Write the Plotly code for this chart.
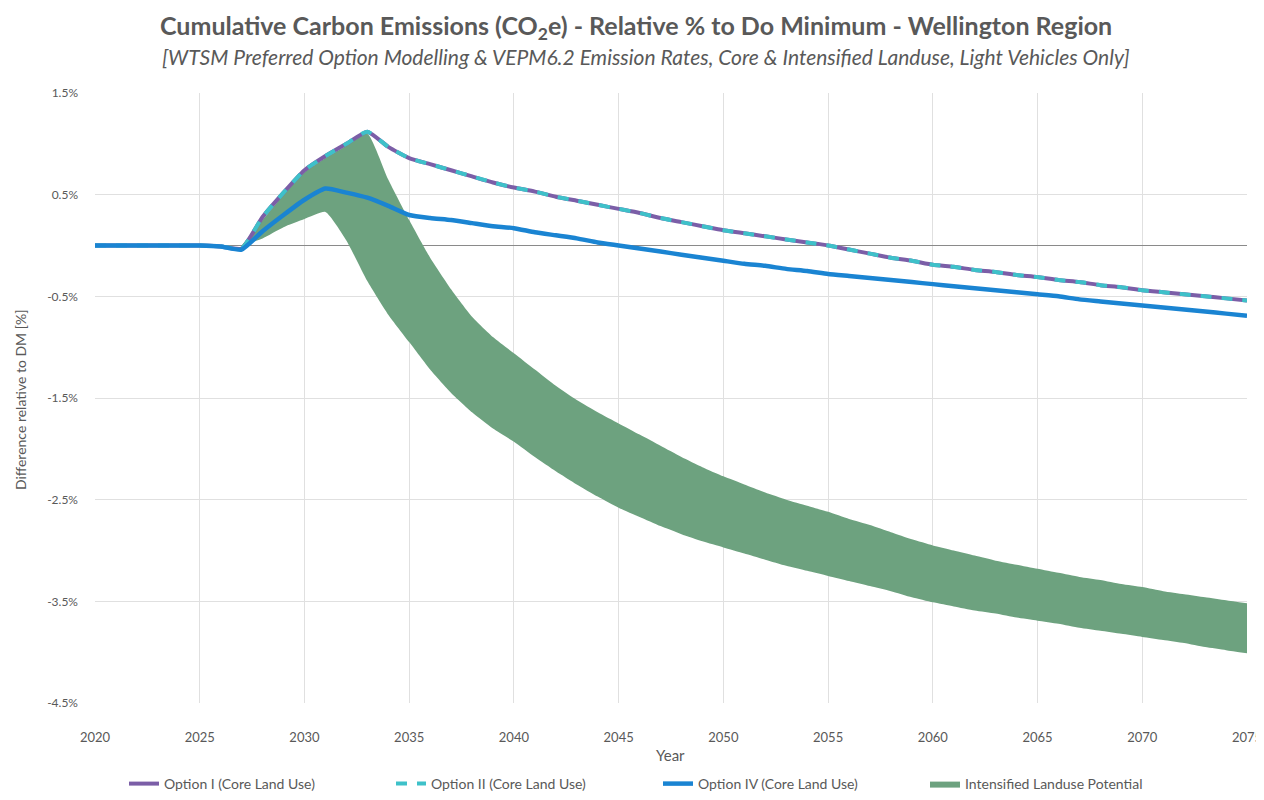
import plotly.graph_objects as go

years = list(range(2020, 2076))

option_i = [0, 0, 0, 0, 0, 0, -0.01, -0.03, 0.28, 0.52, 0.74, 0.88, 1.00, 1.12, 0.97, 0.86,
            0.80, 0.74, 0.68, 0.62, 0.57, 0.53, 0.48, 0.44, 0.40, 0.36, 0.32, 0.27, 0.23, 0.19,
            0.15, 0.12, 0.09, 0.06, 0.03, 0.00, -0.04, -0.08, -0.12, -0.15, -0.19, -0.21, -0.24,
            -0.26, -0.29, -0.31, -0.34, -0.36, -0.39, -0.41, -0.44, -0.46, -0.48, -0.50, -0.52, -0.54]

option_ii = [0, 0, 0, 0, 0, 0, -0.01, -0.03, 0.28, 0.52, 0.74, 0.88, 1.00, 1.12, 0.97, 0.86,
             0.80, 0.74, 0.68, 0.62, 0.57, 0.53, 0.48, 0.44, 0.40, 0.36, 0.32, 0.27, 0.23, 0.19,
             0.15, 0.12, 0.09, 0.06, 0.03, 0.00, -0.04, -0.08, -0.12, -0.15, -0.19, -0.21, -0.24,
             -0.26, -0.29, -0.31, -0.34, -0.36, -0.39, -0.41, -0.44, -0.46, -0.48, -0.50, -0.52, -0.54]

option_iv = [0, 0, 0, 0, 0, 0, -0.01, -0.04, 0.14, 0.30, 0.45, 0.56, 0.52, 0.47, 0.39, 0.30,
             0.27, 0.25, 0.22, 0.19, 0.17, 0.13, 0.10, 0.07, 0.03, 0.00, -0.03, -0.06, -0.09, -0.12,
             -0.15, -0.18, -0.20, -0.23, -0.25, -0.28, -0.30, -0.32, -0.34, -0.36, -0.38, -0.40,
             -0.42, -0.44, -0.46, -0.48, -0.50, -0.53, -0.55, -0.57, -0.59, -0.61, -0.63, -0.65,
             -0.67, -0.69]

band_years = list(range(2027, 2076))
band_upper = [0.0, 0.25, 0.50, 0.72, 0.86, 0.98, 1.10, 0.65, 0.25, -0.12, -0.43, -0.70, -0.90,
              -1.06, -1.22, -1.38, -1.52, -1.64, -1.75, -1.86, -1.97, -2.08, -2.18, -2.27, -2.35,
              -2.43, -2.50, -2.56, -2.62, -2.69, -2.75, -2.82, -2.89, -2.95, -3.00, -3.05, -3.10,
              -3.14, -3.18, -3.22, -3.26, -3.29, -3.33, -3.36, -3.40, -3.43, -3.46, -3.49, -3.52]
band_lower = [0.0, 0.07, 0.18, 0.26, 0.33, 0.05, -0.35, -0.68, -0.95, -1.22, -1.45, -1.64, -1.80,
              -1.93, -2.08, -2.22, -2.35, -2.47, -2.58, -2.67, -2.76, -2.84, -2.91, -2.97, -3.03,
              -3.09, -3.15, -3.20, -3.25, -3.30, -3.35, -3.40, -3.46, -3.51, -3.55, -3.59, -3.62,
              -3.66, -3.69, -3.72, -3.76, -3.79, -3.82, -3.85, -3.88, -3.91, -3.95, -3.98, -4.01]

y_tick_vals = [1.5, 0.5, -0.5, -1.5, -2.5, -3.5, -4.5]
y_tick_text = ["1.5%", "0.5%", "-0.5%", "-1.5%", "-2.5%", "-3.5%", "-4.5%"]
x_tick_vals = list(range(2020, 2076, 5))

GRAY = "#595959"
FONT = "Lato"
SMOOTH = 0.5

# page body has an 8px default margin; figure sized to fit the 1264x800 window
OFF = 8
W, H = 1264 - OFF, 800 - OFF
L, R, T, B = 95 - OFF, 17, 93 - OFF, 97
PW = W - L - R   # 1152
PH = H - T - B   # 610


def px_x(x):
    return (x - OFF - L) / PW


def px_y(y):
    return (H - B - (y - OFF)) / PH


fig = go.Figure()

fig.add_trace(go.Scatter(x=band_years, y=band_lower, mode="lines",
                         line=dict(width=0, color="#6da27f", shape="spline", smoothing=SMOOTH),
                         showlegend=False, hoverinfo="skip"))
fig.add_trace(go.Scatter(x=band_years, y=band_upper, mode="lines",
                         line=dict(width=0, color="#6da27f", shape="spline", smoothing=SMOOTH),
                         fill="tonexty", fillcolor="#6da27f", name="Intensified Landuse Potential",
                         legendrank=4))
fig.add_trace(go.Scatter(x=years, y=option_i, mode="lines",
                         line=dict(color="#7b5ea7", width=4, shape="spline", smoothing=SMOOTH),
                         name="Option I (Core Land Use)", legendrank=1))
fig.add_trace(go.Scatter(x=years, y=option_ii, mode="lines",
                         line=dict(color="#3ec1c9", width=4, dash="11px,10px", shape="spline", smoothing=SMOOTH),
                         name="Option II (Core Land Use)", legendrank=2))
fig.add_trace(go.Scatter(x=years, y=option_iv, mode="lines",
                         line=dict(color="#1a84d2", width=4.5, shape="spline", smoothing=SMOOTH),
                         name="Option IV (Core Land Use)", legendrank=3))

fig.update_layout(
    width=W, height=H,
    paper_bgcolor="white", plot_bgcolor="white",
    margin=dict(l=L, r=R, t=T, b=B, autoexpand=False),
    font=dict(family=FONT, color=GRAY, size=12),
    xaxis=dict(
        range=[2020, 2075], tickvals=x_tick_vals, showgrid=True, gridcolor="#e0e0e0", gridwidth=1,
        zeroline=False, showline=False, ticks="", ticklabelstandoff=25, automargin=False,
        tickfont=dict(size=13, color=GRAY),
    ),
    yaxis=dict(
        range=[-4.5, 1.5], tickvals=y_tick_vals, ticktext=y_tick_text, showgrid=True,
        gridcolor="#e0e0e0", gridwidth=1, zeroline=True, zerolinecolor="#8a8a8a", zerolinewidth=1,
        showline=False, ticks="", ticklabelstandoff=16, automargin=False,
        tickfont=dict(size=12, color=GRAY),
    ),
    annotations=[
        dict(text="<b>Cumulative Carbon Emissions (CO<sub>2</sub>e) - Relative % to Do Minimum - Wellington Region</b>",
             xref="paper", yref="paper", x=px_x(636), y=px_y(27), xanchor="center", yanchor="middle",
             showarrow=False, font=dict(family=FONT, size=25, color=GRAY)),
        dict(text="<i>[WTSM Preferred Option Modelling &amp; VEPM6.2 Emission Rates, Core &amp; Intensified Landuse, Light Vehicles Only]</i>",
             xref="paper", yref="paper", x=px_x(646), y=px_y(56), xanchor="center", yanchor="middle",
             showarrow=False, font=dict(family=FONT, size=21, color=GRAY)),
        dict(text="Year", xref="paper", yref="paper", x=px_x(670), y=px_y(755),
             xanchor="center", yanchor="middle", showarrow=False, font=dict(size=15, color=GRAY)),
        dict(text="Difference relative to DM [%]", xref="paper", yref="paper", x=px_x(20),
             y=px_y(400), xanchor="center", yanchor="middle", textangle=-90, showarrow=False,
             font=dict(size=14, color=GRAY)),
    ],
    legend=dict(orientation="h", x=px_x(124), xanchor="left", yref="container", y=0.0, yanchor="bottom",
                font=dict(size=14, color=GRAY), entrywidth=222, entrywidthmode="pixels",
                traceorder="normal", bgcolor="rgba(0,0,0,0)"),
)

fig.write_html("out.html")
